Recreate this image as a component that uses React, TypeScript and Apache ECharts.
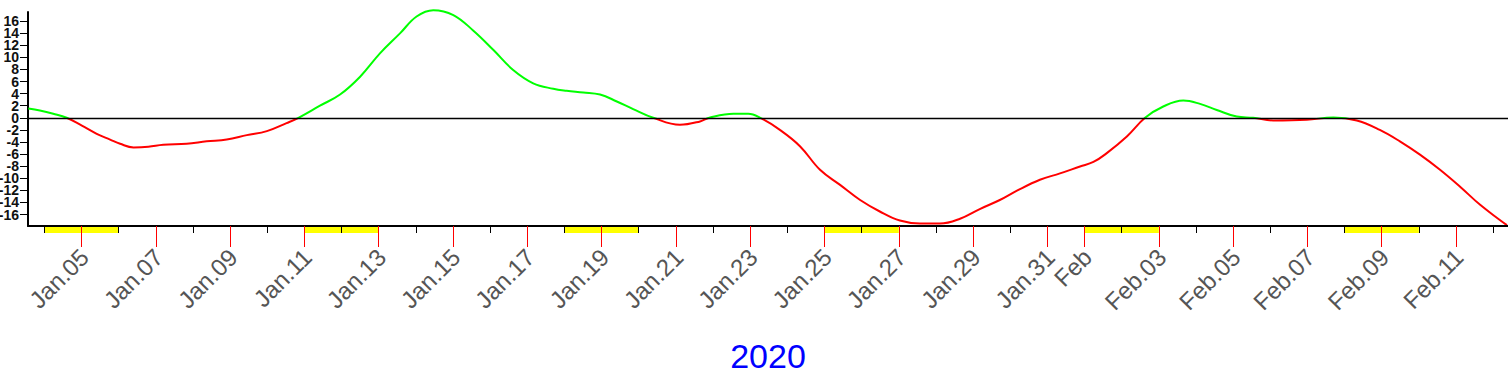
import React, { useEffect, useRef } from 'react';
import * as echarts from 'echarts';

// Day offsets counted from Jan.04 2020 (0 = Jan.04)
const dayOffsets = [
  -0.43, -0.12, 0.24, 0.6, 1.01, 1.41, 1.77, 2.04, 2.4, 2.8, 3.2, 3.83, 4.37, 4.91, 5.45, 5.99,
  6.52, 6.84, 7.42, 7.96, 8.5, 9.04, 9.58, 10.02, 10.47, 11.01, 11.55, 12.09, 12.62, 13.16, 13.7,
  14.06, 14.51, 14.96, 15.41, 15.85, 16.39, 17.11, 17.65, 17.92, 18.55, 18.95, 19.27, 19.8, 20.34,
  20.88, 21.42, 21.96, 22.49, 23.03, 23.57, 24.11, 24.65, 25.18, 25.72, 26.17, 26.8, 27.34, 27.88,
  28.24, 28.6, 29.14, 29.63, 30.12, 30.66, 31.11, 31.56, 32.1, 32.54, 33.08, 33.98, 34.7, 35.33,
  35.95, 36.49, 37.03, 37.57, 38.11, 38.65, 39.18, 39.37,
];
const values = [
  1.54, 1.2, 0.66, 0, -1.3, -2.65, -3.6, -4.3, -4.9, -4.8, -4.47, -4.3, -3.9, -3.6, -2.87, -2.2,
  -0.88, 0, 2.0, 3.85, 6.8, 10.7, 14.0, 16.76, 17.8, 17.0, 14.4, 11.2, 7.9, 5.7, 4.8,
  4.47, 4.2, 3.85, 2.7, 1.44, 0, -1.16, -0.6, 0.05, 0.66, 0.66, 0, -2.0, -4.7,
  -8.6, -11.1, -13.6, -15.5, -17.0, -17.5, -17.5, -16.7, -15.1, -13.6, -12.1, -10.25, -9.2, -8.05,
  -7.3, -5.85, -3.1, 0, 1.87, 2.86, 2.3, 1.3, 0.2, 0, -0.44, -0.33, 0.05, -0.44,
  -2.0, -3.9, -6.1, -8.6, -11.4, -14.4, -16.9, -17.75,
];

const labeledDays = [1, 3, 5, 7, 9, 11, 13, 15, 17, 19, 21, 23, 25, 27, 28, 30, 32, 34, 36, 38];
const tickLabels = [
  'Jan.05', 'Jan.07', 'Jan.09', 'Jan.11', 'Jan.13', 'Jan.15', 'Jan.17', 'Jan.19', 'Jan.21', 'Jan.23',
  'Jan.25', 'Jan.27', 'Jan.29', 'Jan.31', 'Feb', 'Feb.03', 'Feb.05', 'Feb.07', 'Feb.09', 'Feb.11',
];
const plainDays = [0, 2, 4, 6, 8, 10, 12, 14, 16, 18, 20, 22, 24, 26, 29, 31, 33, 35, 37, 39];
const weekendStarts = [0, 7, 14, 21, 28, 35];
const yTicks = [-16, -14, -12, -10, -8, -6, -4, -2, 0, 2, 4, 6, 8, 10, 12, 14, 16];
const yearLabel = '2020';

const X_MIN = -0.44;
const X_MAX = 39.4;
const Y_MIN = -17.9;
const Y_MAX = 17.5;

const GRID_LEFT = 28;
const GRID_WIDTH = 1480;
const LABEL_SHIFT_PX = 3; // tick labels sit a little to the right of their tick
const labelShift = (LABEL_SHIFT_PX * (X_MAX - X_MIN)) / GRID_WIDTH;

export default function App() {
  const ref = useRef<HTMLDivElement>(null);
  useEffect(() => {
    if (!ref.current) return;
    const chart = echarts.init(ref.current, null, { renderer: 'svg' });
    const labelMap: Record<number, string> = {};
    labeledDays.forEach((d, i) => (labelMap[d] = tickLabels[i]));
    const font = 'Liberation Sans, Arial, sans-serif';
    // y labels are split over two label-only axes so that the library does not drop crowded ones
    const yLabelsA = yTicks.filter((_, i) => i % 2 === 0);
    const yLabelsB = yTicks.filter((_, i) => i % 2 === 1);
    const yLabelAxis = (vals: number[]) => ({
      type: 'value',
      gridIndex: 0,
      position: 'left',
      min: Y_MIN,
      max: Y_MAX,
      axisLine: { show: false, onZero: false },
      axisTick: { show: false },
      axisLabel: {
        show: true,
        customValues: vals,
        fontSize: 14,
        fontWeight: 'bold',
        fontFamily: font,
        color: '#111111',
        margin: 9,
        hideOverlap: false,
      },
      splitLine: { show: false },
    });
    chart.setOption({
      animation: false,
      backgroundColor: '#ffffff',
      grid: [
        { left: GRID_LEFT, top: 12, width: GRID_WIDTH, height: 214, outerBoundsMode: 'none', containLabel: false },
        { left: GRID_LEFT, top: 227, width: GRID_WIDTH, height: 6, outerBoundsMode: 'none', containLabel: false },
      ],
      visualMap: {
        show: false,
        type: 'piecewise',
        seriesIndex: 0,
        dimension: 1,
        pieces: [
          { gt: 0, lte: 100, color: '#00ff00' },
          { gt: -100, lte: 0, color: '#ff0000' },
        ],
      },
      xAxis: [
        {
          type: 'value',
          gridIndex: 0,
          position: 'bottom',
          min: X_MIN,
          max: X_MAX,
          z: 10,
          axisLine: { show: true, onZero: false, lineStyle: { color: '#000', width: 2 } },
          axisTick: { show: true, customValues: plainDays, length: 7, lineStyle: { color: '#000', width: 1 } },
          axisLabel: { show: false },
          splitLine: { show: false },
        },
        {
          type: 'value',
          gridIndex: 0,
          position: 'bottom',
          min: X_MIN,
          max: X_MAX,
          z: 11,
          axisLine: { show: false, onZero: false },
          axisTick: { show: true, customValues: labeledDays, length: 21, lineStyle: { color: '#ff0000', width: 1 } },
          axisLabel: { show: false },
          splitLine: { show: false },
          name: yearLabel,
          nameLocation: 'middle',
          nameGap: 113,
          nameTextStyle: { color: '#0000ff', fontSize: 34, fontFamily: font },
        },
        {
          type: 'value',
          gridIndex: 1,
          min: X_MIN,
          max: X_MAX,
          show: false,
        },
        {
          type: 'value',
          gridIndex: 0,
          position: 'bottom',
          min: X_MIN - labelShift,
          max: X_MAX - labelShift,
          axisLine: { show: false, onZero: false },
          axisTick: { show: false },
          axisLabel: {
            show: true,
            customValues: labeledDays,
            formatter: (v: number) => labelMap[Math.round(v)] ?? '',
            rotate: 45,
            fontSize: 24,
            fontFamily: font,
            color: '#555555',
            margin: 27,
            hideOverlap: false,
          },
          splitLine: { show: false },
        },
      ],
      yAxis: [
        {
          type: 'value',
          gridIndex: 0,
          min: Y_MIN,
          max: Y_MAX,
          axisLine: { show: true, onZero: false, lineStyle: { color: '#000', width: 2 } },
          axisTick: { show: true, customValues: yTicks, length: 8, lineStyle: { color: '#000', width: 1 } },
          axisLabel: { show: false },
          splitLine: { show: false },
        },
        { type: 'value', gridIndex: 1, min: 0, max: 1, show: false },
        yLabelAxis(yLabelsA),
        yLabelAxis(yLabelsB),
      ],
      series: [
        {
          type: 'line',
          xAxisIndex: 0,
          yAxisIndex: 0,
          data: dayOffsets.map((d, i) => [d, values[i]]),
          smooth: 0.4,
          showSymbol: false,
          clip: false,
          lineStyle: { width: 2 },
          markLine: {
            silent: true,
            symbol: ['none', 'none'],
            label: { show: false },
            lineStyle: { color: '#000', width: 1.3, type: 'solid' },
            data: [{ yAxis: 0 }],
          },
        },
        {
          type: 'line',
          xAxisIndex: 2,
          yAxisIndex: 1,
          data: [],
          z: 1,
          markArea: {
            silent: true,
            itemStyle: { color: '#ffff00', opacity: 1 },
            data: weekendStarts.map((s) => [{ xAxis: s }, { xAxis: s + 2 }]),
          },
        },
      ],
    });
    return () => chart.dispose();
  }, []);
  return <div ref={ref} style={{ position: 'fixed', left: 0, top: 0, width: 1508, height: 376 }} />;
}
